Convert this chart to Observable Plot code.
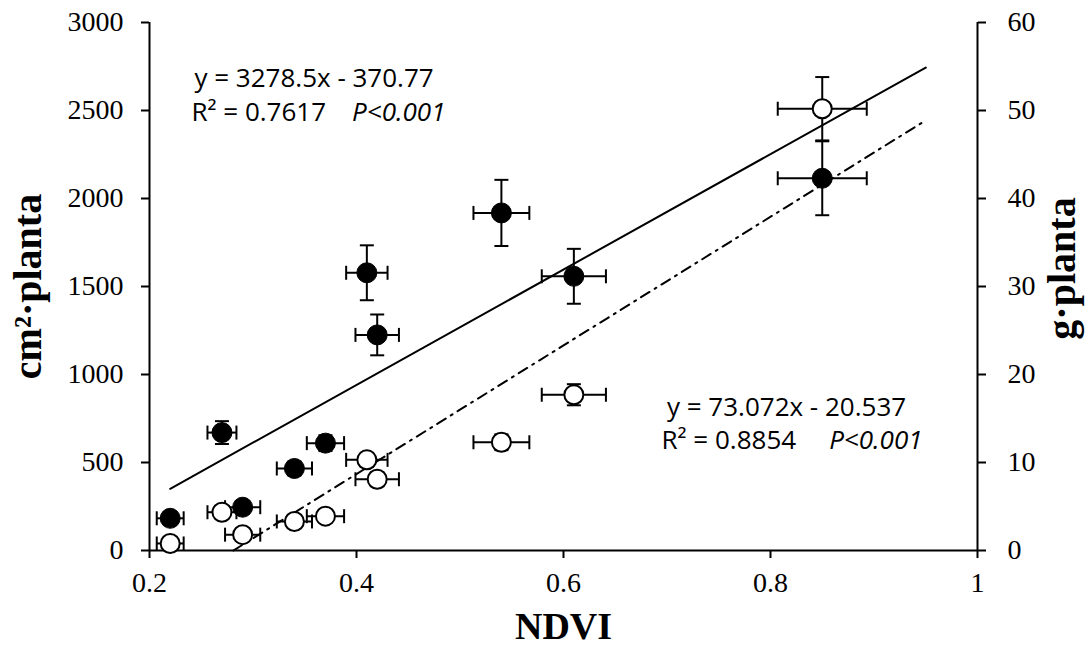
<!DOCTYPE html>
<html>
<head>
<meta charset="utf-8">
<script src="https://cdn.jsdelivr.net/npm/d3@7"></script>
<script src="https://cdn.jsdelivr.net/npm/@observablehq/plot@0.6"></script>
<style>
  html, body { margin: 0; padding: 0; background: #fff; }
  #chart svg { display: block; }
</style>
</head>
<body>
<div id="chart"></div>
<script>
// ---- data ----
const ndvi      = [0.22, 0.27, 0.29, 0.34, 0.37, 0.41, 0.42, 0.54, 0.61, 0.85];
const ndviErr   = [0.013, 0.014, 0.017, 0.017, 0.018, 0.020, 0.021, 0.027, 0.031, 0.043];
const leafArea    = [183, 670, 246, 466, 610, 1578, 1225, 1918, 1558, 2115];   // cm²·planta (left axis)
const leafAreaErr = [30, 65, 35, 40, 45, 156, 116, 188, 156, 210];
const biomass    = [0.8, 4.35, 1.8, 3.3, 3.9, 10.3, 8.1, 12.3, 17.7, 50.2];   // g·planta (right axis)
const biomassErr = [0.5, 0.6, 0.5, 0.5, 0.6, 0.8, 0.8, 0.9, 1.2, 3.6];

const xTicks = [0.2, 0.4, 0.6, 0.8, 1];
const leftTicks = [0, 500, 1000, 1500, 2000, 2500, 3000];
const rightTicks = [0, 10, 20, 30, 40, 50, 60];
const leftMax = 3000, rightMax = 60;

// regression lines (as printed on the chart)
const fitLeafSlope = 3278.5, fitLeafIntercept = -370.77, fitLeafX = [0.22, 0.95];
const fitBioSlope = 73.072, fitBioIntercept = -20.537, fitBioX = [0.281, 0.95];

const eqLeaf = "y = 3278.5x - 370.77", r2Leaf = "R² = 0.7617";
const eqBio = "y = 73.072x - 20.537", r2Bio = "R² = 0.8854";
const pText = "P<0.001";

// ---- derived tables ----
const k = leftMax / rightMax;
const filled = ndvi.map((x, i) => ({x, ex: ndviErr[i], y: leafArea[i], ey: leafAreaErr[i]}));
const open = ndvi.map((x, i) => ({x, ex: ndviErr[i], y: biomass[i] * k, ey: biomassErr[i] * k}));
const lineLeaf = fitLeafX.map(x => ({x, y: fitLeafSlope * x + fitLeafIntercept}));
const lineBio = fitBioX.map(x => ({x, y: (fitBioSlope * x + fitBioIntercept) * k}));

const hCap = {draw(ctx, size) { const r = Math.sqrt(size / Math.PI); ctx.moveTo(-r, 0); ctx.lineTo(r, 0); }};
const vCap = {draw(ctx, size) { const r = Math.sqrt(size / Math.PI); ctx.moveTo(0, -r); ctx.lineTo(0, r); }};

function errorMarks(data) {
  return [
    Plot.link(data, {x1: d => d.x - d.ex, x2: d => d.x + d.ex, y1: "y", y2: "y", stroke: "black", strokeWidth: 2}),
    Plot.link(data, {x1: "x", x2: "x", y1: d => d.y - d.ey, y2: d => d.y + d.ey, stroke: "black", strokeWidth: 2}),
    Plot.dot(data, {x: d => d.x - d.ex, y: "y", symbol: vCap, r: 7, stroke: "black", strokeWidth: 2, fill: "none"}),
    Plot.dot(data, {x: d => d.x + d.ex, y: "y", symbol: vCap, r: 7, stroke: "black", strokeWidth: 2, fill: "none"}),
    Plot.dot(data, {x: "x", y: d => d.y - d.ey, symbol: hCap, r: 7, stroke: "black", strokeWidth: 2, fill: "none"}),
    Plot.dot(data, {x: "x", y: d => d.y + d.ey, symbol: hCap, r: 7, stroke: "black", strokeWidth: 2, fill: "none"})
  ];
}

const sans = "'Open Sans', 'Liberation Sans', sans-serif";
const serif = "'Liberation Serif', 'DejaVu Serif', serif";

const chart = Plot.plot({
  width: 1088,
  height: 647,
  marginLeft: 149,
  marginRight: 111,
  marginTop: 22,
  marginBottom: 97,
  style: {fontFamily: serif, fontSize: "28px", color: "black", background: "white"},
  x: {domain: [0.2, 1]},
  y: {domain: [0, leftMax]},
  marks: [
    Plot.axisX({ticks: xTicks, tickFormat: d => String(d), tickSize: 8, tickPadding: 14, strokeWidth: 2, label: null, fontSize: 28, fontFamily: serif}),
    Plot.axisY({anchor: "left", ticks: leftTicks, tickFormat: d => String(d), tickSize: 8, tickPadding: 18, strokeWidth: 2, label: null, fontSize: 28, fontFamily: serif}),
    Plot.axisY({anchor: "right", ticks: leftTicks, tickFormat: (d, i) => String(rightTicks[i]), tickSize: 8, tickPadding: 22, strokeWidth: 2, label: null, fontSize: 28, fontFamily: serif}),
    Plot.ruleX([0.2], {stroke: "black", strokeWidth: 2}),
    Plot.ruleX([1], {stroke: "black", strokeWidth: 2}),
    Plot.ruleY([0], {stroke: "black", strokeWidth: 2}),
    Plot.line(lineLeaf, {x: "x", y: "y", stroke: "black", strokeWidth: 2}),
    Plot.line(lineBio, {x: "x", y: "y", stroke: "black", strokeWidth: 2, strokeDasharray: "10,6,2,6"}),
    ...errorMarks(filled),
    ...errorMarks(open),
    Plot.dot(filled, {x: "x", y: "y", r: 10, fill: "black", stroke: "black", strokeWidth: 1}),
    Plot.dot(open, {x: "x", y: "y", r: 9.5, fill: "white", stroke: "black", strokeWidth: 2}),
    // equations
    Plot.text([eqLeaf], {x: 0.359, y: 2682, text: d => d, fontFamily: sans, fontSize: 26, fill: "black", textAnchor: "middle", lineAnchor: "middle"}),
    Plot.text([r2Leaf], {x: 0.2405, y: 2489, text: d => d, fontFamily: sans, fontSize: 26, fill: "black", textAnchor: "start", lineAnchor: "middle"}),
    Plot.text([pText], {x: 0.486, y: 2489, text: d => d, fontFamily: sans, fontSize: 26, fontStyle: "italic", fill: "black", textAnchor: "end", lineAnchor: "middle"}),
    Plot.text([eqBio], {x: 0.8155, y: 812, text: d => d, fontFamily: sans, fontSize: 26, fill: "black", textAnchor: "middle", lineAnchor: "middle"}),
    Plot.text([r2Bio], {x: 0.6947, y: 625, text: d => d, fontFamily: sans, fontSize: 26, fill: "black", textAnchor: "start", lineAnchor: "middle"}),
    Plot.text([pText], {x: 0.9469, y: 625, text: d => d, fontFamily: sans, fontSize: 26, fontStyle: "italic", fill: "black", textAnchor: "end", lineAnchor: "middle"}),
    // axis titles
    Plot.text(["NDVI"], {frameAnchor: "bottom", dy: 76, text: d => d, fontFamily: serif, fontSize: 38, fontWeight: "bold", fill: "black", textAnchor: "middle", lineAnchor: "middle"}),
    Plot.text(["cm²·planta"], {frameAnchor: "left", dx: -121, text: d => d, rotate: -90, fontFamily: serif, fontSize: 40, fontWeight: "bold", fill: "black", textAnchor: "middle", lineAnchor: "middle"}),
    Plot.text(["g·planta"], {frameAnchor: "right", dx: 85, dy: -18, text: d => d, rotate: -90, fontFamily: serif, fontSize: 40, fontWeight: "bold", fill: "black", textAnchor: "middle", lineAnchor: "middle"})
  ]
});
document.getElementById("chart").appendChild(chart);
</script>
</body>
</html>
